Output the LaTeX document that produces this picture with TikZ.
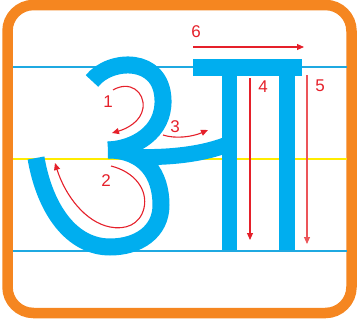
\documentclass[tikz,border=0pt]{standalone}
\usepackage{fontspec}
\setmainfont{Liberation Sans}
\usetikzlibrary{arrows.meta}
\definecolor{borderorange}{HTML}{F58620}
\definecolor{guideblue}{HTML}{1FA9E1}
\definecolor{guideyellow}{HTML}{FFEC00}
\definecolor{glyphblue}{HTML}{00AEEF}
\definecolor{tracered}{HTML}{E5202A}
\definecolor{tracepink}{HTML}{EC5559}
\tikzset{
  glyph/.style={draw=glyphblue, line width=17pt, line cap=butt},
  stemfill/.style={fill=glyphblue},
  trace/.style={draw=tracered, line width=1.1pt, -{Triangle[length=7pt,width=6pt]}},
  numlabel/.style={text=tracered, font=\fontsize{17}{17}\selectfont, inner sep=0pt}
}
\begin{document}
\begin{tikzpicture}[x=1pt,y=-1pt]
\useasboundingbox (0,0) rectangle (357,324);
% border
\draw[borderorange, line width=10.5pt, rounded corners=26pt] (7.5,5) rectangle (351.5,313);
% guide lines
\draw[guideblue, line width=1.3pt] (13,67) -- (347,67);
\draw[guideyellow, line width=1.8pt] (13,159) -- (347,159);
\draw[guideblue, line width=1.8pt] (13,251) -- (347,251);
% letter a: upper bowl
\draw[glyph] (92,81) .. controls (110,58) and (162,56) .. (163,100)
  .. controls (164,132) and (135,149) .. (108,150);
% lower bowl and tail
\draw[glyph] (108,150) .. controls (145,150) and (161,175) .. (161,205)
  .. controls (161,232) and (138,247) .. (110,247)
  .. controls (72,247) and (45,210) .. (36,158);
% horizontal arm
\draw[glyph, line width=16pt] (135,157) .. controls (175,158) and (205,153) .. (226,145);
% aa: top bar and stems
\fill[stemfill] (193,59) rectangle (302,76);
\fill[stemfill] (221.5,70) rectangle (237,250);
\fill[stemfill] (279,70) rectangle (295,250);
% trace arrows
\draw[trace] (113,90) .. controls (130,80) and (145,92) .. (143,108)
  .. controls (141,122) and (126,129) .. (112,133);
\draw[trace] (111,166) .. controls (135,172) and (148,190) .. (144,208)
  .. controls (140,225) and (125,230) .. (110,227)
  .. controls (85,222) and (65,195) .. (55,163);
\draw[trace] (163,135) .. controls (175,139) and (192,137) .. (208,130);
\draw[trace] (250,78) -- (250,240);
\draw[trace, draw=tracepink] (307,75) -- (307,244);
\draw[trace] (193,47) -- (304,47);
% labels
\node[numlabel] (n1) at (108,102) {1};
\node[numlabel] (n2) at (106,181) {2};
\node[numlabel] (n3) at (175,127) {3};
\node[numlabel] (n4) at (263,87) {4};
\node[numlabel] (n5) at (320,86) {5};
\node[numlabel] (n6) at (196,32) {6};
\end{tikzpicture}
\end{document}
